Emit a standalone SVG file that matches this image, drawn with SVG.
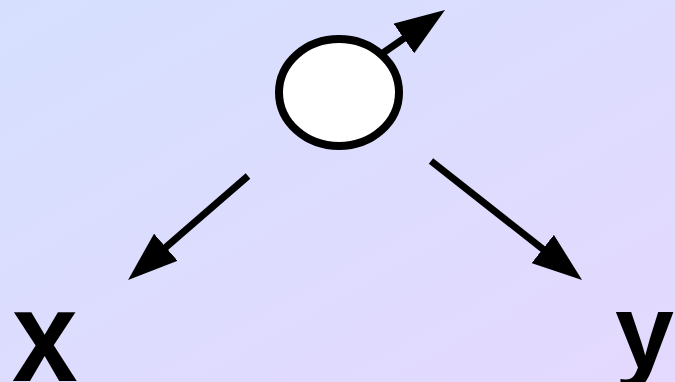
<svg xmlns="http://www.w3.org/2000/svg" width="675" height="382" viewBox="0 0 675 382">
  <defs>
    <linearGradient id="bg" x1="0" y1="0" x2="1" y2="1">
      <stop offset="0" stop-color="#d6e0fe"/>
      <stop offset="1" stop-color="#e4d9fe"/>
    </linearGradient>
    <marker id="ah" markerUnits="userSpaceOnUse" markerWidth="50" markerHeight="36" refX="4" refY="18" orient="auto" viewBox="0 0 50 36">
      <path d="M0,0 L50,18 L0,36 Z" fill="#000"/>
    </marker>
  </defs>
  <style>
    .edge { stroke: #000; stroke-width: 7; fill: none; marker-end: url(#ah); }
    .lbl { font-family: "Liberation Sans", Arial, sans-serif; font-weight: bold; fill: #000; }
  </style>
  <rect x="0" y="0" width="675" height="382" fill="url(#bg)"/>
  <g id="connectors">
    <line class="edge" x1="370" y1="62" x2="407.2" y2="36.2"/>
    <line class="edge" x1="248" y1="176" x2="162.8" y2="249.9"/>
    <line class="edge" x1="431" y1="161" x2="545.9" y2="251.5"/>
  </g>
  <g id="node">
    <ellipse cx="339" cy="92.5" rx="60" ry="53.5" fill="#fff" stroke="#000" stroke-width="8"/>
  </g>
  <g id="label-x">
    <text class="lbl" transform="translate(12,381) scale(1,1.1)" font-size="118">x</text>
  </g>
  <g id="label-y">
    <text class="lbl" x="615" y="368" font-size="106">y</text>
  </g>
</svg>
